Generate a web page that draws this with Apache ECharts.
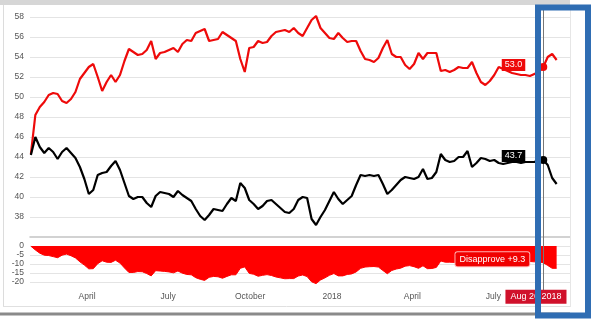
<!DOCTYPE html>
<html><head><meta charset="utf-8">
<script src="https://cdn.jsdelivr.net/npm/echarts@6/dist/echarts.min.js"></script>
<style>html,body{margin:0;padding:0;background:#fff}#c{width:602px;height:322px}</style>
</head><body><div id="c"></div>
<script>
const dates = [
'2017-01-28','2017-02-02','2017-02-07','2017-02-12','2017-02-17','2017-02-22','2017-02-27','2017-03-04','2017-03-09','2017-03-14',
'2017-03-19','2017-03-24','2017-03-29','2017-04-03','2017-04-08','2017-04-13','2017-04-18','2017-04-23','2017-04-28','2017-05-03',
'2017-05-08','2017-05-13','2017-05-18','2017-05-23','2017-05-28','2017-06-02','2017-06-07','2017-06-12','2017-06-17','2017-06-22',
'2017-06-27','2017-07-02','2017-07-07','2017-07-12','2017-07-17','2017-07-22','2017-07-27','2017-08-01','2017-08-06','2017-08-11',
'2017-08-16','2017-08-21','2017-08-26','2017-08-31','2017-09-05','2017-09-10','2017-09-15','2017-09-20','2017-09-25','2017-09-30',
'2017-10-05','2017-10-10','2017-10-15','2017-10-20','2017-10-25','2017-10-30','2017-11-04','2017-11-09','2017-11-14','2017-11-19',
'2017-11-24','2017-11-29','2017-12-04','2017-12-09','2017-12-14','2017-12-19','2017-12-24','2017-12-29','2018-01-03','2018-01-08',
'2018-01-13','2018-01-18','2018-01-23','2018-01-28','2018-02-02','2018-02-07','2018-02-12','2018-02-17','2018-02-22','2018-02-27',
'2018-03-04','2018-03-09','2018-03-14','2018-03-19','2018-03-24','2018-03-29','2018-04-03','2018-04-08','2018-04-13','2018-04-18',
'2018-04-23','2018-04-28','2018-05-03','2018-05-08','2018-05-13','2018-05-18','2018-05-23','2018-05-28','2018-06-02','2018-06-07',
'2018-06-12','2018-06-17','2018-06-22','2018-06-27','2018-07-02','2018-07-07','2018-07-12','2018-07-17','2018-07-22','2018-07-27',
'2018-08-01','2018-08-06','2018-08-11','2018-08-16','2018-08-21','2018-08-26','2018-08-31','2018-09-05','2018-09-10'
];
const disapprove = [
44.3,48.2,49.0,49.5,50.2,50.4,50.3,49.6,49.4,49.8,
50.5,51.8,52.4,53.0,53.3,52.0,50.6,51.5,52.2,51.5,
52.2,53.6,54.8,54.5,54.2,54.3,54.7,55.6,53.8,54.4,
54.5,54.7,54.9,54.5,55.3,55.7,55.6,56.4,56.6,56.8,
55.6,55.7,55.8,56.5,56.2,55.9,55.6,53.8,52.5,54.9,
55.0,55.6,55.4,55.5,56.1,56.5,56.6,56.7,56.5,56.9,
56.4,56.1,56.9,57.7,58.1,56.9,56.4,55.9,55.8,56.4,
55.9,55.5,55.6,55.6,54.6,53.8,53.7,53.5,53.9,54.9,
55.7,54.3,54.0,54.0,53.2,52.8,53.3,54.4,53.8,54.4,
54.4,54.4,52.6,52.7,52.5,52.7,53.0,52.9,52.9,53.5,
52.4,51.5,51.2,51.6,52.2,53.0,52.8,52.6,52.4,52.3,
52.2,52.2,52.1,52.3,52.5,53.0,54.0,54.3,53.7
];
const approve = [
44.2,46.0,45.0,44.4,44.9,44.5,43.8,44.5,44.9,44.4,
43.9,43.0,41.8,40.3,40.7,42.2,42.4,42.5,43.1,43.6,
42.7,41.4,40.1,39.8,40.0,40.0,39.4,39.0,40.1,40.5,
40.4,40.3,40.0,40.6,40.2,39.9,39.6,38.8,38.1,37.7,
38.2,38.8,38.7,38.6,39.3,39.9,39.6,41.4,40.9,39.7,
39.3,38.8,39.1,39.6,39.7,39.3,38.9,38.5,38.4,38.8,
39.7,40.0,39.9,37.8,37.2,38.0,38.7,39.6,40.5,39.8,
39.3,39.7,40.1,41.2,42.2,42.1,42.2,42.1,42.2,41.3,
40.3,40.7,41.2,41.7,42.0,41.9,41.8,42.0,42.8,41.8,
41.9,42.5,44.3,43.7,43.5,43.6,44.0,44.0,44.6,43.0,
43.4,43.9,43.8,43.6,43.7,43.4,43.3,43.4,43.5,43.5,
43.4,43.5,43.5,43.5,43.7,43.7,43.2,41.9,41.3
];
const monthNames = ['January','February','March','April','May','June','July','August','September','October','November','December'];
const mainTickLabels = [38,40,42,44,46,48,50,52,54,56,58];
const spreadTickLabels = [0,-5,-10,-15,-20];
const hoverDate = '2018-08-26';
const hoverText = 'Aug 26 2018';
const xMin = '2017-01-27';
const xMax = '2018-09-25';

const h = dates.indexOf(hoverDate);
const spread = dates.map((d, i) => Math.round((approve[i] - disapprove[i]) * 10) / 10);
const RED = '#ee0a0a';
const DAY = 24 * 3600 * 1000;

const chart = echarts.init(document.getElementById('c'), null, {renderer: 'canvas'});
const xFmt = function (v) {
  const d = new Date(v);
  const m = d.getMonth();
  return m === 0 ? String(d.getFullYear()) : monthNames[m];
};
const crosshair = {
  silent: true, symbol: ['none', 'none'], label: {show: false},
  lineStyle: {color: '#777', width: 1, type: 'solid'},
  data: [{xAxis: hoverDate}]
};
chart.setOption({
  animation: false,
  backgroundColor: '#ffffff',
  textStyle: {fontFamily: '"Liberation Sans", Arial, sans-serif'},
  grid: [
    {left: 30, right: 32, top: 10, height: 227},
    {left: 30, right: 32, top: 237, height: 54}
  ],
  xAxis: [
    {type: 'time', gridIndex: 0, min: xMin, max: xMax, splitNumber: 6,
     minInterval: 88 * DAY, maxInterval: 93 * DAY,
     axisLabel: {show: false}, axisTick: {show: false}, splitLine: {show: false},
     axisLine: {show: true, lineStyle: {color: '#c4c4c4', width: 1.5}}},
    {type: 'time', gridIndex: 1, min: xMin, max: xMax, splitNumber: 6,
     minInterval: 88 * DAY, maxInterval: 93 * DAY,
     axisLine: {show: false}, axisTick: {show: false}, splitLine: {show: false},
     axisLabel: {margin: 1, fontSize: 8.5, color: '#555', formatter: xFmt}}
  ],
  yAxis: [
    {type: 'value', gridIndex: 0, min: 36, max: 58.7, interval: 2,
     axisLine: {show: false}, axisTick: {show: false},
     axisLabel: {margin: 6, fontSize: 8.5, color: '#555',
       formatter: v => mainTickLabels.indexOf(v) >= 0 ? String(v) : ''},
     splitLine: {lineStyle: {color: '#e4e4e4'}, showMinLine: false, showMaxLine: false}},
    {type: 'value', gridIndex: 1, min: -25, max: 5, interval: 5,
     axisLine: {show: false}, axisTick: {show: false},
     axisLabel: {margin: 6, fontSize: 8.5, color: '#555',
       formatter: v => spreadTickLabels.indexOf(v) >= 0 ? String(v) : ''},
     splitLine: {lineStyle: {color: '#e4e4e4'}, showMinLine: false, showMaxLine: false}}
  ],
  series: [
    {name: 'Disapprove', type: 'line', xAxisIndex: 0, yAxisIndex: 0,
     data: dates.map((d, i) => [d, disapprove[i]]), showSymbol: false, clip: false,
     lineStyle: {color: RED, width: 2.2}, itemStyle: {color: RED},
     markLine: crosshair,
     markPoint: {silent: true, data: [{
       coord: [hoverDate, disapprove[h]], symbol: 'circle', symbolSize: 8,
       itemStyle: {color: RED},
       label: {show: true, position: 'left', distance: 14, offset: [0, -2],
         formatter: disapprove[h].toFixed(1), color: '#fff', backgroundColor: RED,
         padding: [2, 3, 1, 3], fontSize: 9}
     }]}},
    {name: 'Approve', type: 'line', xAxisIndex: 0, yAxisIndex: 0,
     data: dates.map((d, i) => [d, approve[i]]), showSymbol: false, clip: false,
     lineStyle: {color: '#000', width: 2.2}, itemStyle: {color: '#000'},
     markPoint: {silent: true, data: [{
       coord: [hoverDate, approve[h]], symbol: 'circle', symbolSize: 8,
       itemStyle: {color: '#000'},
       label: {show: true, position: 'left', distance: 14, offset: [0, -4],
         formatter: approve[h].toFixed(1), color: '#fff', backgroundColor: '#000',
         padding: [2, 3, 1, 3], fontSize: 9}
     }]}},
    {name: 'Spread', type: 'line', xAxisIndex: 1, yAxisIndex: 1,
     data: dates.map((d, i) => [d, spread[i]]), showSymbol: false, clip: false,
     lineStyle: {color: '#ff0000', width: 1}, itemStyle: {color: '#ff0000'},
     areaStyle: {color: '#ff0000', opacity: 1},
     markLine: crosshair,
     markPoint: {silent: true, data: [
       {coord: [hoverDate, spread[h]], symbol: 'circle', symbolSize: 1,
        itemStyle: {color: 'rgba(0,0,0,0)'},
        label: {show: true, position: 'left', distance: 13.5, offset: [0, -3.5],
          formatter: 'Disapprove +' + Math.abs(spread[h]).toFixed(1), color: '#fff',
          backgroundColor: '#f00000', borderColor: '#ffb0b0', borderWidth: 1,
          borderRadius: 2, padding: [3, 4, 2, 4], fontSize: 9}},
       {coord: [hoverDate, -25], symbol: 'circle', symbolSize: 1,
        itemStyle: {color: 'rgba(0,0,0,0)'},
        label: {show: true, position: 'inside', offset: [-7.3, 5.7],
          formatter: hoverText, color: '#fff', backgroundColor: '#d0112b',
          padding: [3, 5, 2, 5], fontSize: 9}}
     ]}}
  ],
  graphic: [
    {type: 'rect', shape: {x: 0, y: 0, width: 570, height: 5}, style: {fill: '#d6d6d6'}, z: 50, silent: true},
    {type: 'line', shape: {x1: 3.5, y1: 5, x2: 3.5, y2: 307}, style: {stroke: '#dcdcdc', lineWidth: 1}, z: 50, silent: true},
    {type: 'line', shape: {x1: 570.5, y1: 5, x2: 570.5, y2: 307}, style: {stroke: '#e6e6e6', lineWidth: 1}, z: 50, silent: true},
    {type: 'line', shape: {x1: 3, y1: 306.5, x2: 570, y2: 306.5}, style: {stroke: '#e0e0e0', lineWidth: 1}, z: 50, silent: true},
    {type: 'rect', shape: {x: 0, y: 312.5, width: 570, height: 3}, style: {fill: '#8a8a8a'}, z: 50, silent: true},
    {type: 'rect', shape: {x: 538, y: 7.5, width: 50, height: 308}, style: {fill: 'none', stroke: '#2f6db3', lineWidth: 6}, z: 100, silent: true}
  ]
});
</script>
</body></html>
